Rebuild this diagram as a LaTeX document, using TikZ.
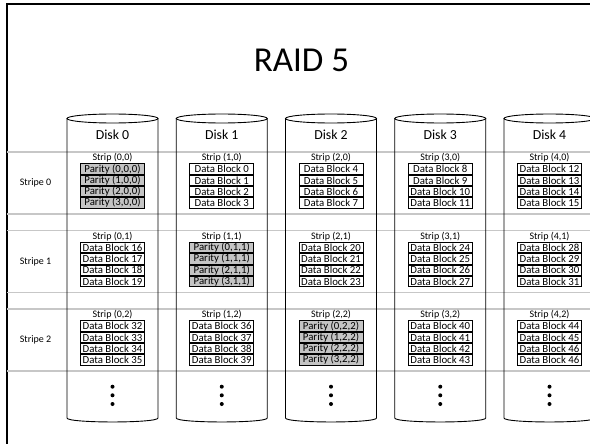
\documentclass[tikz,border=0pt]{standalone}
\usepackage{fontspec}
\setmainfont{Carlito}
\begin{document}
\begin{tikzpicture}[x=1pt,y=-1pt,
  frameline/.style={line width=2pt, line join=miter},
  gridline/.style={draw=black!22, line width=1.8pt},
  cyl/.style={draw=black, line width=0.9pt},
  cyltop/.style={draw=black, line width=0.9pt, fill=white},
  blk/.style={draw=black, line width=0.8pt, fill=white, minimum width=64pt, minimum height=10.4pt, inner sep=0pt, font=\fontsize{10.8}{10}\selectfont},
  par/.style={blk, fill=black!23},
  lbl/.style={font=\fontsize{10}{10}\selectfont, inner sep=0pt},
  disklbl/.style={font=\fontsize{13.8}{14}\selectfont, inner sep=0pt, anchor=base},
  dotnode/.style={circle, fill=black, inner sep=0pt, minimum size=4pt}]
\useasboundingbox (0,0) rectangle (590,444);
% frame
\draw[frameline] (7,444) -- (7,4) -- (590,4);
% title
\node[font=\fontsize{35}{36}\selectfont, inner sep=0pt, anchor=base] (title) at (301.5,71.7) {RAID 5};
% stripe separators
\foreach \j in {0,1,2} {
  \pgfmathsetmacro\T{152+78.5*\j}
  \draw[gridline] (7,\T) -- (590,\T);
  \draw[gridline] (7,\T+62) -- (590,\T+62);
  \node[lbl] (st\j) at (35.5,\T+31) {Stripe \j};
}
% disks
\foreach \i in {0,...,4} {
  \pgfmathsetmacro\cx{112.5+109.25*\i}
  \draw[cyl] (\cx-45.5,118.5) -- (\cx-45.5,418)
     .. controls (\cx-45.5,423.3) and (\cx+45.5,423.3) .. (\cx+45.5,418)
     -- (\cx+45.5,118.5);
  \draw[cyltop] (\cx,118.5) ellipse [x radius=45.5, y radius=4.5];
  \node[disklbl] (d\i) at (\cx,139.3) {Disk \i};
  \node[dotnode] (dota\i) at (\cx,386.7) {};
  \node[dotnode] (dotb\i) at (\cx,395.3) {};
  \node[dotnode] (dotc\i) at (\cx,404) {};
  \foreach \j in {0,1,2} {
    \pgfmathsetmacro\T{152+78.5*\j}
    \node[lbl] (s\i\j) at (\cx,\T+6) {Strip (\i,\j)};
    \foreach \k in {0,...,3} {
      \pgfmathsetmacro\yy{\T+17+11.3*\k}
      \ifnum\i=\j
        \node[par] (b\i\j\k) at (\cx,\yy) {Parity (\k,\j,\j)};
      \else
        \pgfmathtruncatemacro\n{16*\j+4*(\i-(\i>\j ? 1 : 0))+\k}
        \ifnum\n=47 \def\n{46}\fi
        \node[blk] (b\i\j\k) at (\cx,\yy) {Data Block \n};
      \fi
    }
  }
}
\end{tikzpicture}
\end{document}
